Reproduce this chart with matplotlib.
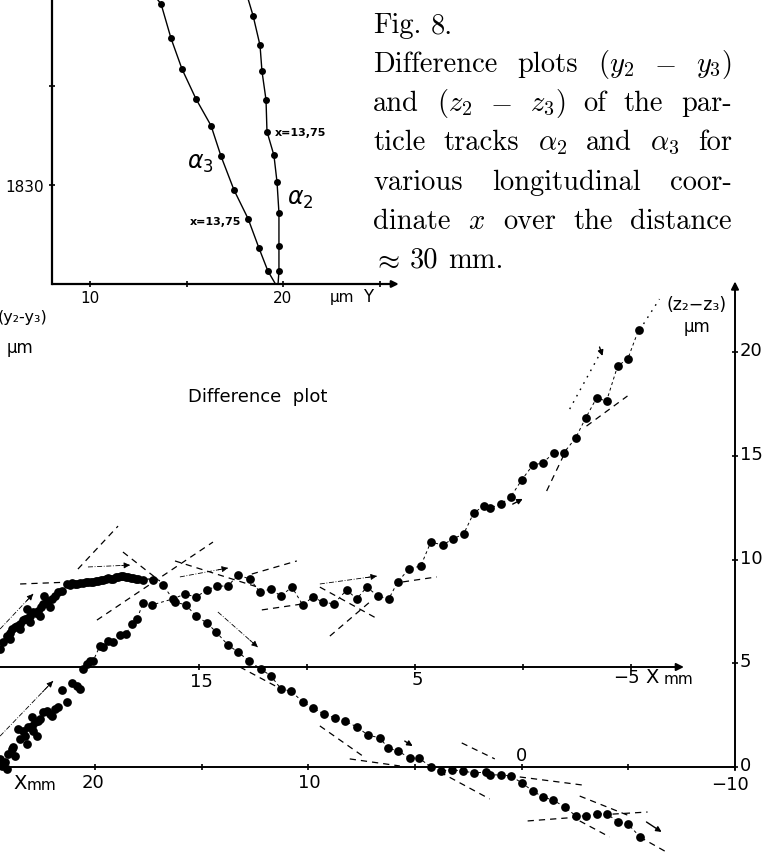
import matplotlib
matplotlib.use("Agg")
import matplotlib.pyplot as plt
import numpy as np

W, H, DPI = 763, 854, 100

# ---------------- inset: track positions ----------------
alpha3_Y = [13.68, 14.20, 14.77, 15.49, 16.27, 16.79, 17.46, 18.19, 18.76, 19.22]
alpha3_v = [1848.3, 1844.8, 1841.7, 1838.7, 1836.0, 1832.9, 1829.5, 1826.6, 1823.6, 1821.3]
alpha3_end_Y = [13.47, 19.64]
alpha3_end_v = [1848.8, 1819.9]
alpha2_Y = [18.45, 18.81, 18.91, 19.12, 19.17, 19.53, 19.69, 19.79, 19.79, 19.79]
alpha2_v = [1847.1, 1844.1, 1841.5, 1838.6, 1835.4, 1833.0, 1830.3, 1827.2, 1823.8, 1821.3]
alpha2_end_Y = [18.19, 19.74]
alpha2_end_v = [1848.8, 1819.9]

# ---------------- difference plot: (z2 - z3) vs X (lower X axis, right axis) ----------------
dz_x = [24.45, 24.36, 24.22, 24.12, 24.07, 23.89, 23.84, 23.75, 23.61, 23.51, 23.37, 23.28,
        23.19, 23.14, 22.95, 22.95, 22.90, 22.81, 22.72, 22.67, 22.58, 22.44, 22.25, 22.11,
        22.01, 21.87, 21.73, 21.55, 21.31, 21.08, 20.84, 20.70, 20.56, 20.37, 20.23, 20.09,
        19.77, 19.63, 19.39, 19.16, 18.83, 18.55, 18.27, 18.03, 17.75, 17.33, 16.35, 15.78,
        15.27, 14.75, 14.29, 13.77, 13.30, 12.74, 12.27, 11.76, 11.29, 10.77, 10.26, 9.79,
        9.32, 8.81, 8.20, 7.73, 7.26, 6.74, 6.23, 5.81, 5.29, 4.73, 4.26, 3.70, 3.23, 2.72,
        2.25, 1.78, 1.50, 0.98, 0.52, 0.00, -0.52, -0.98, -1.50, -1.97, -2.53, -3.00, -3.51,
        -3.98, -4.50, -4.97, -5.48]
dz_val = [0.39, 0.05, 0.24, -0.10, 0.63, 0.87, 0.96, 0.53, 1.83, 1.35, 1.73, 1.49,
          1.11, 1.93, 1.98, 2.41, 1.73, 2.17, 1.49, 2.22, 2.31, 2.65, 2.70, 2.55,
          2.46, 2.80, 2.89, 3.71, 3.13, 4.05, 3.90, 3.76, 4.72, 4.96, 5.11, 5.11,
          5.83, 5.78, 6.07, 6.02, 6.36, 6.41, 6.89, 7.13, 7.90, 7.81, 8.10, 8.34,
          8.19, 8.53, 8.72, 8.72, 9.25, 9.06, 8.43, 8.58, 8.24, 8.67, 7.81, 8.19,
          7.95, 7.86, 8.53, 8.10, 8.67, 8.24, 8.10, 8.92, 9.54, 9.69, 10.84, 10.70, 10.99, 11.23,
          12.24, 12.58, 12.48, 12.67, 13.01, 13.83, 14.55, 14.65, 15.13, 15.13, 15.86, 16.82, 17.78,
          17.64, 19.33, 19.66, 21.06]

# ---------------- difference plot: (y2 - y3) vs X (upper X axis) ----------------
dy_x = [24.21, 24.07, 23.89, 23.75, 23.66, 23.52, 23.43, 23.29, 23.15, 23.06, 22.92, 22.82,
        22.69, 22.55, 22.45, 22.31, 22.22, 22.08, 21.99, 21.81, 21.67, 21.53, 21.34, 21.11,
        20.97, 20.88, 20.74, 20.65, 20.51, 20.37, 20.23, 20.14, 20.00, 19.91, 19.77, 19.68,
        19.54, 19.44, 19.31, 19.21, 19.07, 18.98, 18.84, 18.75, 18.61, 18.52, 18.38, 18.29,
        18.15, 18.06, 17.92, 17.82, 17.59, 17.13, 16.67, 16.11, 15.60, 15.14, 14.63, 14.21,
        13.66, 13.19, 12.69, 12.13, 11.67, 11.20, 10.74, 10.19, 9.72, 9.21, 8.70, 8.24,
        7.69, 7.18, 6.62, 6.25, 5.79, 5.23, 4.81, 4.26, 3.80, 3.29, 2.78, 2.27, 1.71, 1.53,
        1.02, 0.56, 0.05, -0.46, -0.93, -1.39, -1.94, -2.45, -2.92, -3.43, -3.89, -4.40,
        -4.86, -5.42,
        23.75, 23.29, 22.82, 22.36, 21.90, 22.96, 22.17]
dy_val = [0.87, 1.20, 1.49, 1.64, 1.83, 1.93, 1.98, 2.07, 2.27, 2.31, 2.36, 2.46,
          2.65, 2.60, 2.70, 2.89, 3.04, 3.08, 3.18, 3.28, 3.42, 3.61, 3.66, 4.00,
          3.95, 4.05, 4.00, 4.00, 4.05, 4.05, 4.10, 4.10, 4.10, 4.10, 4.14, 4.14,
          4.19, 4.19, 4.24, 4.29, 4.24, 4.24, 4.34, 4.34, 4.39, 4.39, 4.34, 4.34,
          4.29, 4.29, 4.24, 4.24, 4.19, 4.19, 3.95, 3.13, 2.99, 2.46, 2.12, 1.69,
          1.06, 0.72, 0.29, -0.10, -0.43, -1.06, -1.16, -1.69, -1.98, -2.27, -2.46, -2.60,
          -2.89, -3.28, -3.42, -3.90, -4.05, -4.39, -4.39, -4.82, -5.01, -4.96, -5.01, -5.11, -5.06, -5.20,
          -5.20, -5.25, -5.59, -5.98, -6.27, -6.41, -6.75, -7.18, -7.18, -7.08, -7.08, -7.47,
          -7.57, -8.19,
          1.35, 1.83, 2.17, 2.46, 2.89, 2.80, 3.42]

# ---------------- fitted straight lines (X, z2-z3 frame) ----------------
fit_x0 = [20.80, 23.51, 18.69, 19.91, 16.25, 12.65, 12.18, 9.46, 8.99, -1.17, -3.04, 5.57,
          13.21, 2.81, 3.84, 0.09, -2.72, -0.28, -4.26, -2.72, -5.53, 8.06, 9.46]
fit_z0 = [9.54, 8.82, 10.36, 7.08, 9.93, 9.30, 7.57, 8.67, 6.31, 13.30, 16.43, 8.92,
          4.82, 1.16, -0.24, -0.48, -1.40, -2.60, -2.27, -2.60, -3.37, 0.39, 1.98]
fit_x1 = [18.92, 17.42, 16.96, 14.47, 12.37, 10.54, 10.26, 6.74, 7.12, -2.11, -4.96, 3.98,
          11.01, 1.26, 1.50, -2.86, -5.06, -2.72, -5.90, -4.12, -6.79, 5.71, 7.45]
fit_z1 = [11.61, 9.06, 8.96, 10.84, 8.67, 9.93, 7.86, 7.13, 7.95, 15.33, 17.88, 9.16,
          3.61, 0.39, -1.54, -0.87, -2.36, -2.41, -2.17, -3.37, -4.10, 0.05, 0.53]
dot_x0 = [-2.25, -5.53]
dot_z0 = [17.25, 21.06]
dot_x1 = [-3.79, -6.46]
dot_z1 = [20.14, 22.55]
# direction arrows
arr_x0 = [24.45, 24.45, 20.33, 16.02, 14.24, 9.46]
arr_z0 = [6.65, 1.49, 9.64, 9.16, 7.47, 8.82]
arr_x1 = [22.90, 21.97, 18.36, 13.77, 12.37, 6.79]
arr_z1 = [8.34, 4.14, 9.73, 9.59, 5.78, 9.20]
wedge_x0 = [5.48, 0.42, -3.65, -5.85]
wedge_z0 = [1.25, 12.67, 20.24, -2.65]
wedge_x1 = [5.11, -0.05, -3.79, -6.56]
wedge_z1 = [1.01, 12.92, 19.81, -3.13]

low_ticks = [20, 15, 10, 5, 0, -5]
up_ticks = [15, 10, 5, 0, -5]
z_ticks = [0, 5, 10, 15, 20]

# ======================================================================
fig = plt.figure(figsize=(W / DPI, H / DPI), dpi=DPI)
fig.patch.set_facecolor("white")
LS = ["Liberation Sans Narrow", "DejaVu Sans"]


def box(l, t, r, b):
    return [l / W, 1 - b / H, (r - l) / W, (b - t) / H]


def lim(va, pa, vb, pb, p0, p1):
    s = (pb - pa) / (vb - va)
    return va + (p0 - pa) / s, va + (p1 - pa) / s


def ftext(px, py, s, **kw):
    kw.setdefault("family", LS)
    return fig.text(px / W, 1 - py / H, s, **kw)


# ---------- main axes: X (lower axis) / z2-z3 ----------
ax = fig.add_axes([0, 0, 1, 1])
ax.set_xlim(*lim(20, 95, -10, 735, 0, W))
ax.set_ylim(*lim(0, 768, 20, 353, H, 0))
ax.axis("off")

# ---------- overlay axes: X (upper axis) / y2-y3 ----------
ay = fig.add_axes([0, 0, 1, 1], label="y-frame")
ay.set_xlim(*lim(15, 199, -5, 631, 0, W))
ay.set_ylim(*lim(0, 668, 1, 668 - 20.75, H, 0))
ay.axis("off")
ay.patch.set_visible(False)

# axes lines
xl = ax.get_xlim()[0]
ax.plot([xl, -10], [0, 0], color="k", lw=1.4, solid_capstyle="butt")
ax.plot(low_ticks, [0] * len(low_ticks), ls="none", marker="|", ms=5, mew=1.2, color="k")
ax.annotate("", xy=(-10, 23.4), xytext=(-10, -0.15),
            arrowprops=dict(arrowstyle="-|>", lw=1.4, color="k", mutation_scale=11,
                            shrinkA=0, shrinkB=0))
ax.plot([-10] * len(z_ticks), z_ticks, ls="none", marker="_", ms=5, mew=1.2, color="k")

xu = ay.get_xlim()[0]
ay.annotate("", xy=(-7.45, 0), xytext=(xu, 0),
            arrowprops=dict(arrowstyle="-|>", lw=1.4, color="k", mutation_scale=11,
                            shrinkA=0, shrinkB=0))
ay.plot(up_ticks, [0] * len(up_ticks), ls="none", marker="|", ms=5, mew=1.2, color="k")

# fitted lines
for x0, z0, x1, z1 in zip(fit_x0, fit_z0, fit_x1, fit_z1):
    ax.plot([x0, x1], [z0, z1], color="k", lw=0.9, ls=(0, (5, 4)))
for x0, z0, x1, z1 in zip(dot_x0, dot_z0, dot_x1, dot_z1):
    ax.plot([x0, x1], [z0, z1], color="k", lw=1.0, ls=(0, (1.2, 4)))
for x0, z0, x1, z1 in zip(arr_x0, arr_z0, arr_x1, arr_z1):
    ax.plot([x0, x1], [z0, z1], color="k", lw=0.6, ls=(0, (6, 2, 1, 2)))
    ax.annotate("", xy=(x1, z1), xytext=(x1 - 0.2 * (x1 - x0), z1 - 0.2 * (z1 - z0)),
                arrowprops=dict(arrowstyle="-|>", lw=0.6, color="k", mutation_scale=9,
                                shrinkA=0, shrinkB=0))
for x0, z0, x1, z1 in zip(wedge_x0, wedge_z0, wedge_x1, wedge_z1):
    ax.annotate("", xy=(x1, z1), xytext=(x0, z0),
                arrowprops=dict(arrowstyle="-|>", lw=1.0, color="k", mutation_scale=8,
                                shrinkA=0, shrinkB=0))

# connecting dashed lines through measured points
dzx = np.array(dz_x); dzv = np.array(dz_val)
m = dzx < 20.6
ax.plot(dzx[m], dzv[m], color="k", lw=0.7, ls=(0, (3, 3)))
dyx = np.array(dy_x[:100]); dyv = np.array(dy_val[:100])
m2 = dyx < 17.7
ay.plot(dyx[m2], dyv[m2], color="k", lw=0.7, ls=(0, (3, 3)))

# points
ax.plot(dz_x, dz_val, ls="none", marker="o", ms=6.3, mew=0, color="k")
ay.plot(dy_x, dy_val, ls="none", marker="o", ms=6.3, mew=0, color="k")

# tick labels, lower axis
for v, dx, dyy in [(20, -2, -15), (10, 1, -15)]:
    ax.annotate(str(v), xy=(v, 0), xytext=(dx, dyy), textcoords="offset pixels",
                ha="center", va="center", fontsize=13, family=LS)
ax.annotate("0", xy=(0, 0), xytext=(0, 12), textcoords="offset pixels",
            ha="center", va="center", fontsize=13, family=LS)
ax.annotate("\u221210", xy=(-10, 0), xytext=(-5, -17), textcoords="offset pixels",
            ha="center", va="center", fontsize=13, family=LS)
ftext(13, 784, "X", fontsize=14, va="center", ha="left")
ftext(27, 786, "mm", fontsize=11, va="center", ha="left")
# right axis labels
for v in z_ticks:
    ax.annotate(str(v), xy=(-10, v), xytext=(5, 2), textcoords="offset pixels",
                ha="left", va="center", fontsize=13, family=LS)
# upper axis labels
for v, dx, dyy in [(15, 2, -14), (5, 2, -12)]:
    ay.annotate(str(v), xy=(v, 0), xytext=(dx, dyy), textcoords="offset pixels",
                ha="center", va="center", fontsize=13, family=LS)
ay.annotate("\u22125", xy=(-5, 0), xytext=(-5, -10), textcoords="offset pixels",
            ha="center", va="center", fontsize=13, family=LS)
ftext(645, 678, "X", fontsize=14, va="center", ha="left")
ftext(664, 680, "mm", fontsize=11, va="center", ha="left")

# axis titles
ftext(697, 305, "(z\u2082\u2212z\u2083)", fontsize=12.5, ha="center", va="center")
ftext(697, 327, "\u00b5m", fontsize=12, ha="center", va="center")
ftext(47, 318, "(y\u2082-y\u2083)", fontsize=11.5, ha="right", va="center")
ftext(20, 348, "\u00b5m", fontsize=12, ha="center", va="center")
ftext(188, 397, "Difference  plot", fontsize=13, ha="left", va="center")

# ---------- inset ----------
ai = fig.add_axes(box(52, 0, 400, 285))
ai.set_xlim(*lim(10, 90, 20, 283, 52, 400))
ai.set_ylim(*lim(1830, 186, 1840, 87, 285, 0))
ai.patch.set_visible(False)
for s in ["top", "right", "bottom"]:
    ai.spines[s].set_visible(False)
ai.spines["left"].set_linewidth(1.6)
x0i = ai.get_xlim()[0]
yb = ai.get_ylim()[0]
ai.annotate("", xy=(26.0, yb), xytext=(x0i, yb),
            arrowprops=dict(arrowstyle="-|>", lw=1.6, color="k", mutation_scale=10,
                            shrinkA=0, shrinkB=0), annotation_clip=False)
ai.set_xticks([10, 15, 20, 25])
ai.set_xticklabels(["10", "", "20", ""], fontsize=11, family=LS)
ai.set_yticks([1830, 1840])
ai.set_yticklabels(["1830", ""], fontsize=11, family=LS)
ai.tick_params(direction="inout", length=5, width=1.2, pad=3)
ai.tick_params(axis="x", pad=2)
ftext(330, 298, "\u00b5m", fontsize=11, ha="left", va="center")
ftext(363, 297, "Y", fontsize=12, ha="left", va="center")

ai.plot(alpha3_end_Y[:1] + alpha3_Y + alpha3_end_Y[1:], alpha3_end_v[:1] + alpha3_v + alpha3_end_v[1:],
        color="k", lw=1.0, clip_on=True)
ai.plot(alpha2_end_Y[:1] + alpha2_Y + alpha2_end_Y[1:], alpha2_end_v[:1] + alpha2_v + alpha2_end_v[1:],
        color="k", lw=1.0, clip_on=True)
ai.plot(alpha3_Y, alpha3_v, ls="none", marker="o", ms=5, mew=0, color="k")
ai.plot(alpha2_Y, alpha2_v, ls="none", marker="o", ms=5, mew=0, color="k")
ftext(200, 163, r"$\alpha_3$", fontsize=17, ha="center", va="center")
ftext(300, 199, r"$\alpha_2$", fontsize=17, ha="center", va="center")
ftext(275, 133, "x=13,75", fontsize=8, ha="left", va="center", weight="bold")
ftext(190, 222, "x=13,75", fontsize=8, ha="left", va="center", weight="bold")

# ---------- caption (justified) ----------
CS = 20.5
cap_lines = [
    (["Fig.", "8."], False),
    (["Difference", "plots", r"$(y_2$", r"$-$", r"$y_3)$"], True),
    (["and", r"$(z_2$", r"$-$", r"$z_3)$", "of", "the", "par-"], True),
    (["ticle", "tracks", r"$\alpha_2$", "and", r"$\alpha_3$", "for"], True),
    (["various", "longitudinal", "coor-"], True),
    (["dinate", r"$x$", "over", "the", "distance"], True),
    ([r"$\approx$", "30", "mm."], False),
]
cap_base = [33, 72, 111, 150, 190, 229, 268]
CAP_L, CAP_R = 373, 732

r = fig.canvas.get_renderer()
space = 0.33 * CS * DPI / 72
for (words, just), yb_ in zip(cap_lines, cap_base):
    ts = [fig.text(0, 0, w, fontsize=CS, family="cmr10", math_fontfamily="cm",
                   va="baseline", ha="left") for w in words]
    ws = [t.get_window_extent(renderer=r).width for t in ts]
    gap = (CAP_R - CAP_L - sum(ws)) / (len(ws) - 1) if just else space
    x = CAP_L
    for t, w in zip(ts, ws):
        t.set_position((x / W, 1 - yb_ / H))
        x += w + gap

fig.savefig("out.png", dpi=DPI, facecolor="white")
